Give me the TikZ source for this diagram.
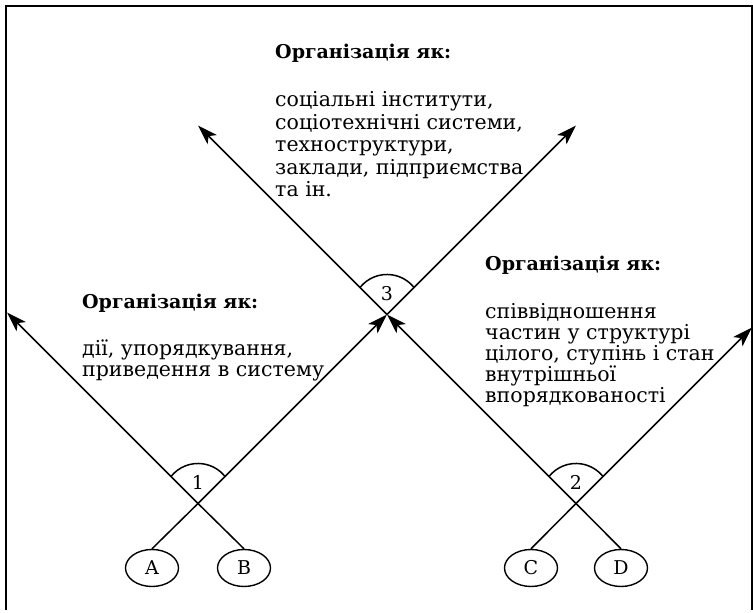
\documentclass[tikz,border=0pt]{standalone}
\usepackage{fontspec}
\setmainfont{DejaVu Serif}
\usetikzlibrary{arrows.meta,shapes.geometric}
\begin{document}
\begin{tikzpicture}[x=1pt,y=1pt,
  line/.style={line width=1.5pt},
  arr/.style={line, -{Stealth[length=20pt,width=13pt,inset=5pt]}},
  letter/.style={draw, line width=1.4pt, ellipse, minimum width=53pt,
    minimum height=37pt, inner sep=0pt, font=\fontsize{19}{19}\selectfont},
  num/.style={font=\fontsize{19}{19}\selectfont, inner sep=0pt},
  head/.style={font=\fontsize{19}{19}\selectfont\bfseries, anchor=base west, inner sep=0pt},
  body/.style={font=\fontsize{20.5}{22.5}\selectfont, align=left, anchor=base west, inner sep=0pt},
  bodytight/.style={body, font=\fontsize{20.5}{21}\selectfont},
]
\useasboundingbox (0,0) rectangle (753,613);
% frame
\draw[line width=1.3pt] (6,3) -- (6,607) -- (752,607) -- (752,3);

% source ellipses
\node[letter] (A) at (152,45) {A};
\node[letter] (B) at (244,45) {B};
\node[letter] (C) at (531,45) {C};
\node[letter] (D) at (621,45) {D};

% crossings and arrow ends
\coordinate (X1) at (198,109.5);
\coordinate (X2) at (576,109.5);
\coordinate (X3) at (387,298.5);
\coordinate (L1) at (7,300.5);
\coordinate (R2) at (752,285.5);
\coordinate (TL) at (198,487.5);
\coordinate (TR) at (576,487.5);

% connectors
\draw[arr] (A.north) -- (X1) -- (X3);
\draw[arr] (B.north) -- (X1) -- (L1);
\draw[arr] (C.north) -- (X2) -- (R2);
\draw[arr] (D.north) -- (X2) -- (X3);
\draw[arr] (X3) -- (TL);
\draw[arr] (X3) -- (TR);

% arcs over the crossings with their numbers
\foreach \p/\n in {X1/1, X2/2, X3/3} {
  \draw[line] (\p) ++(-27,27) arc[start angle=141.5, end angle=38.5, radius=34.5pt];
  \node[num] (n\n) at ([yshift=21pt]\p) {\n};
}

% text blocks (body nodes are placed by the baseline of their last line)
\node[head] (h3) at (275,554) {Організація як:};
\node[body] (b3) at (275,416) {соціальні інститути,\\соціотехнічні системи,\\техноструктури,\\заклади, підприємства\\та ін.};

\node[head] (h1) at (82,304) {Організація як:};
\node[bodytight] (b1) at (82,236) {дії, упорядкування,\\приведення в систему};

\node[head] (h2) at (485,342) {Організація як:};
\node[bodytight] (b2) at (485,210) {співвідношення\\частин у структурі\\цілого, ступінь і стан\\внутрішньої\\впорядкованості};
\end{tikzpicture}
\end{document}
